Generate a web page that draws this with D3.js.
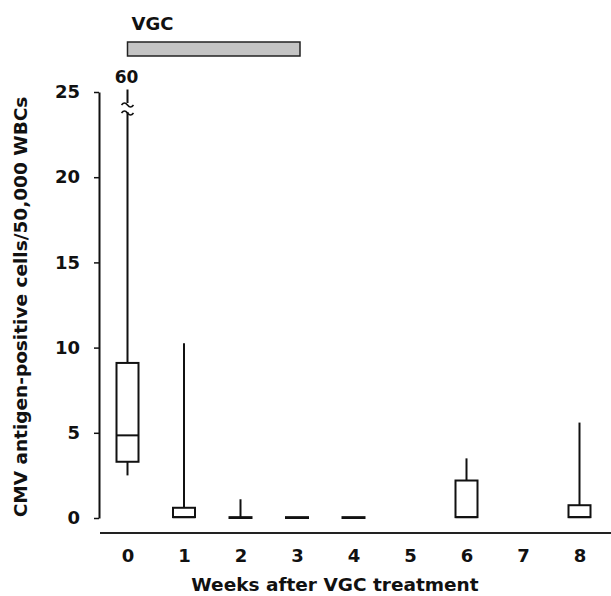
<!DOCTYPE html>
<html>
<head>
<meta charset="utf-8">
<script src="https://cdn.jsdelivr.net/npm/d3@7"></script>
<style>
  body { margin: 0; background: #fff; }
  text { font-family: "DejaVu Sans", Verdana, sans-serif; font-weight: bold; fill: #111; }
</style>
</head>
<body>
<div id="chart"></div>
<script>
// weeks that have a box; weeks 5 and 7 have no data
const weeks = [0, 1, 2, 3, 4, 6, 8];
const whiskerLow = [2.5, 0, 0, 0, 0, 0, 0];
const q1 = [3.3, 0.05, 0, 0, 0, 0.05, 0.05];
const median = [4.85, 0.05, 0, 0, 0, 0.05, 0.05];
const q3 = [9.1, 0.6, 0.05, 0.05, 0.05, 2.2, 0.75];
const whiskerHigh = [60, 10.25, 1.1, 0.05, 0.05, 3.5, 5.6];

const xTicks = [0, 1, 2, 3, 4, 5, 6, 7, 8];
const yTicks = [0, 5, 10, 15, 20, 25];
const treatment = { label: 'VGC', from: 0, to: 3 };

const width = 611, height = 596;
const yMax = 25;

const svg = d3.select('#chart').append('svg')
  .attr('width', width)
  .attr('height', height);

const x = d3.scaleLinear().domain([0, 8]).range([127.5, 579.5]);
const y = d3.scaleLinear().domain([0, yMax]).range([518, 92]);

const boxW = 22;
const stroke = '#111';

// y axis
const yAxis = svg.append('g')
  .attr('transform', 'translate(99,0)')
  .call(d3.axisLeft(y).tickValues(yTicks).tickSize(5).tickSizeOuter(0).tickPadding(14));
yAxis.select('.domain').attr('stroke', stroke).attr('stroke-width', 2);
yAxis.selectAll('.tick line').attr('stroke', stroke).attr('stroke-width', 1.5);
yAxis.selectAll('.tick text')
  .style('font-size', '18px')
  .attr('fill', '#111');

// x axis: labels from the axis, baseline drawn separately (it is detached)
const xAxis = svg.append('g')
  .attr('transform', 'translate(0,533)')
  .call(d3.axisBottom(x).tickValues(xTicks).tickSize(0).tickPadding(16));
xAxis.select('.domain').remove();
xAxis.selectAll('.tick text')
  .style('font-size', '18px')
  .attr('fill', '#111');

svg.append('line')
  .attr('x1', 100).attr('x2', 611)
  .attr('y1', 533).attr('y2', 533)
  .attr('stroke', '#222')
  .attr('stroke-width', 2);

// axis titles
svg.append('text')
  .attr('x', 335).attr('y', 591)
  .attr('text-anchor', 'middle')
  .style('font-size', '18.5px')
  .text('Weeks after VGC treatment');

svg.append('text')
  .attr('transform', 'translate(27,307) rotate(-90)')
  .attr('text-anchor', 'middle')
  .style('font-size', '18.5px')
  .text('CMV antigen-positive cells/50,000 WBCs');

// treatment bar
svg.append('text')
  .attr('x', x(treatment.from) + 4).attr('y', 30)
  .style('font-size', '18px')
  .text(treatment.label);

svg.append('rect')
  .attr('x', x(treatment.from))
  .attr('y', 42)
  .attr('width', x(treatment.to) - x(treatment.from) + 3)
  .attr('height', 14)
  .attr('fill', '#c4c4c4')
  .attr('stroke', '#222')
  .attr('stroke-width', 1.5);

// boxes
const boxes = svg.append('g')
  .selectAll('g')
  .data(weeks.map((w, i) => ({
    w, lo: whiskerLow[i], q1: q1[i], med: median[i], q3: q3[i], hi: whiskerHigh[i]
  })))
  .enter().append('g');

const clampY = v => y(Math.min(v, yMax + 0.15));

boxes.append('line')
  .attr('x1', d => x(d.w)).attr('x2', d => x(d.w))
  .attr('y1', d => y(d.q3)).attr('y2', d => clampY(d.hi))
  .attr('stroke', stroke).attr('stroke-width', 2);

boxes.append('line')
  .attr('x1', d => x(d.w)).attr('x2', d => x(d.w))
  .attr('y1', d => y(d.q1)).attr('y2', d => y(d.lo))
  .attr('stroke', stroke).attr('stroke-width', 2);

boxes.append('rect')
  .attr('x', d => x(d.w) - boxW / 2)
  .attr('y', d => y(d.q3))
  .attr('width', boxW)
  .attr('height', d => Math.max(0.5, y(d.q1) - y(d.q3)))
  .attr('fill', '#fff')
  .attr('stroke', stroke).attr('stroke-width', 2);

boxes.append('line')
  .attr('x1', d => x(d.w) - boxW / 2).attr('x2', d => x(d.w) + boxW / 2)
  .attr('y1', d => y(d.med)).attr('y2', d => y(d.med))
  .attr('stroke', stroke).attr('stroke-width', 2);

// off-scale whisker: break mark and value label
const off = boxes.filter(d => d.hi > yMax);
const bx = d => x(d.w);
off.append('rect')
  .attr('x', d => bx(d) - 6).attr('y', 103)
  .attr('width', 12).attr('height', 9)
  .attr('fill', '#fff');
[104, 112].forEach(yy => {
  off.append('path')
    .attr('d', d => `M${bx(d) - 6},${yy + 1} q3,-4 6,0 t6,0`)
    .attr('fill', 'none')
    .attr('stroke', stroke).attr('stroke-width', 1.6);
});
off.append('text')
  .attr('x', d => bx(d) - 1).attr('y', 83)
  .attr('text-anchor', 'middle')
  .style('font-size', '17px')
  .text(d => d.hi);
</script>
</body>
</html>
